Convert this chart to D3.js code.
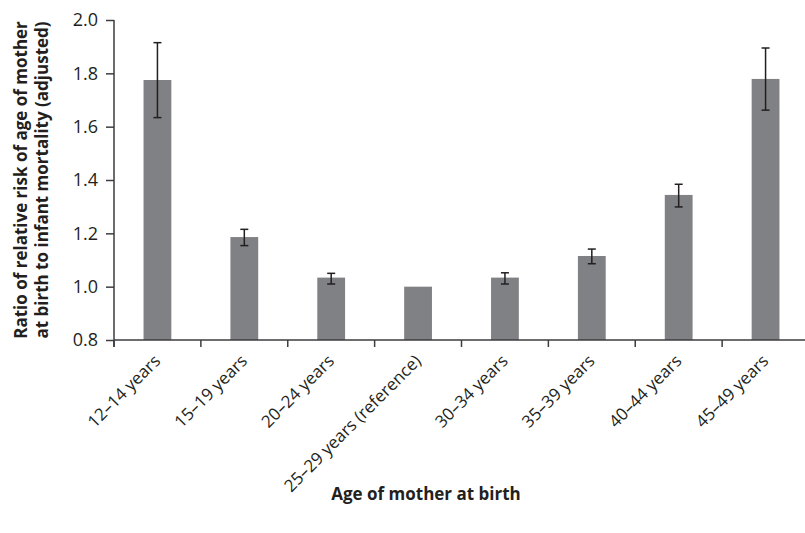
<!DOCTYPE html>
<html>
<head>
<meta charset="utf-8">
<script src="https://cdn.jsdelivr.net/npm/d3@7"></script>
<style>
  html, body { margin: 0; padding: 0; background: #fff; }
  svg { display: block; }
  text { font-family: "Open Sans", sans-serif; fill: #231f20; }
</style>
</head>
<body>
<svg id="chart" width="805" height="533"></svg>
<script>
const categories = ["12–14 years", "15–19 years", "20–24 years", "25–29 years (reference)",
                    "30–34 years", "35–39 years", "40–44 years", "45–49 years"];
const ratio = [1.775, 1.186, 1.034, 1.0, 1.034, 1.115, 1.344, 1.779];
const lower = [1.634, 1.154, 1.010, null, 1.010, 1.086, 1.299, 1.662];
const upper = [1.915, 1.215, 1.050, null, 1.052, 1.141, 1.384, 1.895];
const yTicks = [0.8, 1.0, 1.2, 1.4, 1.6, 1.8, 2.0];
const yTitle = ["Ratio of relative risk of age of mother", "at birth to infant mortality (adjusted)"];
const xTitle = "Age of mother at birth";

const data = categories.map((c, i) => ({ cat: c, v: ratio[i], lo: lower[i], hi: upper[i] }));

const svg = d3.select("#chart");
const mLeft = 114, mRight = 809, mTop = 20, mBottom = 340;

const x = d3.scaleBand().domain(categories).range([mLeft, mRight]).paddingInner(0.68).paddingOuter(0.34);
const y = d3.scaleLinear().domain([0.8, 2.0]).range([mBottom, mTop]);
const axisColor = "#3d3d3f";

// bars
svg.append("g").selectAll("rect").data(data).join("rect")
  .attr("x", d => x(d.cat))
  .attr("width", x.bandwidth())
  .attr("y", d => y(d.v))
  .attr("height", d => y(0.8) - y(d.v))
  .attr("fill", "#808184");

// error bars
const eb = svg.append("g").attr("stroke", "#231f20").attr("stroke-width", 1.5);
const withErr = data.filter(d => d.lo !== null);
const cx = d => x(d.cat) + x.bandwidth() / 2;
eb.selectAll("line.v").data(withErr).join("line").attr("class", "v")
  .attr("x1", cx).attr("x2", cx)
  .attr("y1", d => y(d.lo)).attr("y2", d => y(d.hi));
eb.selectAll("line.t").data(withErr).join("line").attr("class", "t")
  .attr("x1", d => cx(d) - 4).attr("x2", d => cx(d) + 4)
  .attr("y1", d => y(d.hi)).attr("y2", d => y(d.hi));
eb.selectAll("line.b").data(withErr).join("line").attr("class", "b")
  .attr("x1", d => cx(d) - 4).attr("x2", d => cx(d) + 4)
  .attr("y1", d => y(d.lo)).attr("y2", d => y(d.lo));

// y axis
const yAxis = svg.append("g").attr("transform", `translate(${mLeft},0)`)
  .call(d3.axisLeft(y).tickValues(yTicks).tickFormat(d3.format(".1f")).tickSize(8).tickPadding(8));
yAxis.select(".domain").remove();
yAxis.selectAll(".tick line").attr("stroke", axisColor).attr("stroke-width", 1.5);
yAxis.selectAll(".tick text").attr("font-size", 18).attr("font-family", "Open Sans").attr("fill", "#231f20");
svg.append("line").attr("x1", mLeft).attr("x2", mLeft).attr("y1", y(2.0)).attr("y2", mBottom + 7)
  .attr("stroke", axisColor).attr("stroke-width", 1.5);

// x axis line and boundary ticks
svg.append("line").attr("x1", mLeft).attr("x2", 805).attr("y1", mBottom).attr("y2", mBottom)
  .attr("stroke", axisColor).attr("stroke-width", 1.5);
const step = x.step();
const bounds = d3.range(categories.length).map(i => x(categories[i]) - x.paddingOuter() * step);
svg.append("g").selectAll("line").data(bounds).join("line")
  .attr("x1", d => d).attr("x2", d => d).attr("y1", mBottom).attr("y2", mBottom + 7)
  .attr("stroke", axisColor).attr("stroke-width", 1.5);

// x labels
const xAxis = svg.append("g").attr("transform", `translate(0,${mBottom})`)
  .call(d3.axisBottom(x).tickSize(0).tickPadding(0));
xAxis.select(".domain").remove();
xAxis.selectAll(".tick text")
  .attr("font-size", 17).attr("font-family", "Open Sans").attr("fill", "#231f20")
  .attr("text-anchor", "end")
  .attr("dy", null).attr("y", 0)
  .attr("transform", "translate(4,22) rotate(-45)");

// axis titles
svg.append("g").attr("transform", "translate(0,180) rotate(-90)")
  .selectAll("text").data(yTitle).join("text")
  .attr("x", 0).attr("y", (d, i) => 27 + i * 21)
  .attr("text-anchor", "middle")
  .attr("font-size", 17).attr("font-weight", "bold")
  .text(d => d);

svg.append("text").attr("x", 426).attr("y", 500)
  .attr("text-anchor", "middle").attr("font-size", 17).attr("font-weight", "bold")
  .text(xTitle);
</script>
</body>
</html>
